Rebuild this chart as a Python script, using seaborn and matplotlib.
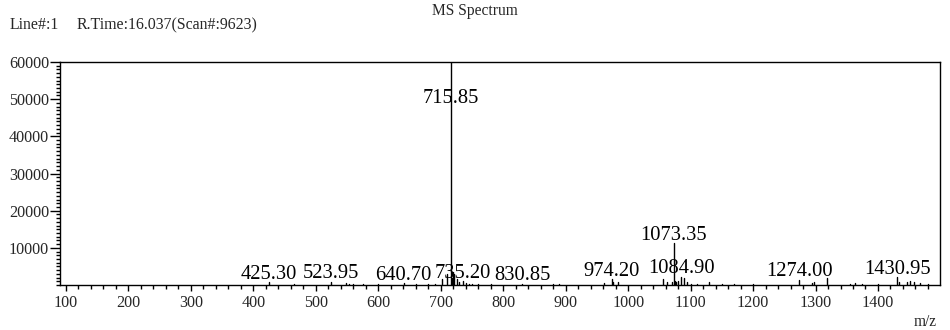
import numpy as np
import pandas as pd
import matplotlib
matplotlib.use("Agg")
import matplotlib.pyplot as plt
from matplotlib.ticker import MultipleLocator, FixedLocator
import seaborn as sns

# ---- data ----
labeled_mz = [425.30, 523.95, 640.70, 715.85, 735.20, 830.85, 974.20,
              1073.35, 1084.90, 1274.00, 1430.95]
labeled_int = [700, 900, 500, 61000, 1000, 400, 1600,
               11300, 2200, 1400, 2100]
minor_mz = [465, 548, 553, 560, 575, 600, 660, 680, 690, 702.5, 709.5,
            717.5, 720, 722, 726, 730, 740, 745, 750, 760, 780, 880, 890,
            961, 975.5, 983.8, 1055.8, 1061.7, 1070, 1075, 1077, 1080,
            1089.5, 1093.7, 1100, 1110, 1129, 1150, 1170, 1200, 1293.8,
            1297.5, 1318.8, 1356, 1363, 1374, 1400.6, 1434, 1446, 1452,
            1458, 1467, 1480]
minor_int = [300, 500, 400, 300, 200, 200, 250, 300, 400, 1600, 3000,
             2000, 3600, 3000, 1500, 900, 500, 400, 400, 300, 200, 300, 250,
             500, 800, 900, 1500, 700, 800, 1000, 900, 1200,
             2000, 900, 400, 300, 900, 300, 250, 200, 600,
             700, 2000, 400, 500, 300, 400, 800, 900, 1000,
             800, 600, 300]
x_ticks = [100, 200, 300, 400, 500, 600, 700, 800, 900, 1000, 1100, 1200, 1300, 1400]
y_ticks = [10000, 20000, 30000, 40000, 50000, 60000]

all_mz = labeled_mz + minor_mz
all_int = labeled_int + minor_int
rows = []
for i, (m, v) in enumerate(zip(all_mz, all_int)):
    rows.append({"peak": i, "mz": m, "intensity": 0.0})
    rows.append({"peak": i, "mz": m, "intensity": float(v)})
df = pd.DataFrame(rows)

sns.set_theme(style="ticks")
plt.rcParams["font.family"] = ["Liberation Serif", "DejaVu Serif"]
plt.rcParams["axes.linewidth"] = 1.0

fig = plt.figure(figsize=(9.5, 3.3), dpi=100)
ax = fig.add_axes([60 / 950, 1 - 285 / 330, 880 / 950, 223 / 330])

sns.lineplot(data=df, x="mz", y="intensity", units="peak", estimator=None,
             sort=False, color="black", linewidth=1.0, ax=ax, legend=False)

ymax = 60000
ax.set_xlim(90.4, 1499.3)
ax.set_ylim(0, ymax)
ax.xaxis.set_major_locator(FixedLocator(x_ticks))
ax.xaxis.set_minor_locator(MultipleLocator(20))
ax.yaxis.set_major_locator(FixedLocator(y_ticks))
ax.yaxis.set_minor_locator(MultipleLocator(1000))
ax.set_xticklabels([str(t) for t in x_ticks])
ax.set_yticklabels([str(t) for t in y_ticks])
ax.tick_params(axis="x", which="major", length=4.5, width=1, pad=3, labelsize=11.6, color="black")
ax.tick_params(axis="x", which="minor", length=2.8, width=1, color="black")
ax.tick_params(axis="y", which="major", length=7.5, width=1, pad=0.5, labelsize=11.6, color="black")
ax.tick_params(axis="y", which="minor", length=3, width=1, color="black")
for s in ax.spines.values():
    s.set_visible(True)
    s.set_color("black")
    s.set_linewidth(1.0)
ax.set_xlabel("")
ax.set_ylabel("")

for m, v in zip(labeled_mz, labeled_int):
    ly = min(v, 0.8 * ymax)
    ax.annotate(f"{m:.2f}", xy=(m, ly), xytext=(0, 2.5), textcoords="offset points",
                ha="center", va="baseline", fontsize=14.8, color="black")

fig.text(475 / 950, 1 - 11 / 330, "MS Spectrum", ha="center", va="center", fontsize=11.2)
fig.text(10 / 950, 1 - 25 / 330, "Line#:1", ha="left", va="center", fontsize=11.4)
fig.text(77 / 950, 1 - 25 / 330, "R.Time:16.037(Scan#:9623)", ha="left", va="center", fontsize=11.4)
fig.text(925 / 950, 1 - 322 / 330, "m/z", ha="center", va="center", fontsize=11.2)

fig.savefig("out.png", dpi=100, facecolor="white")
